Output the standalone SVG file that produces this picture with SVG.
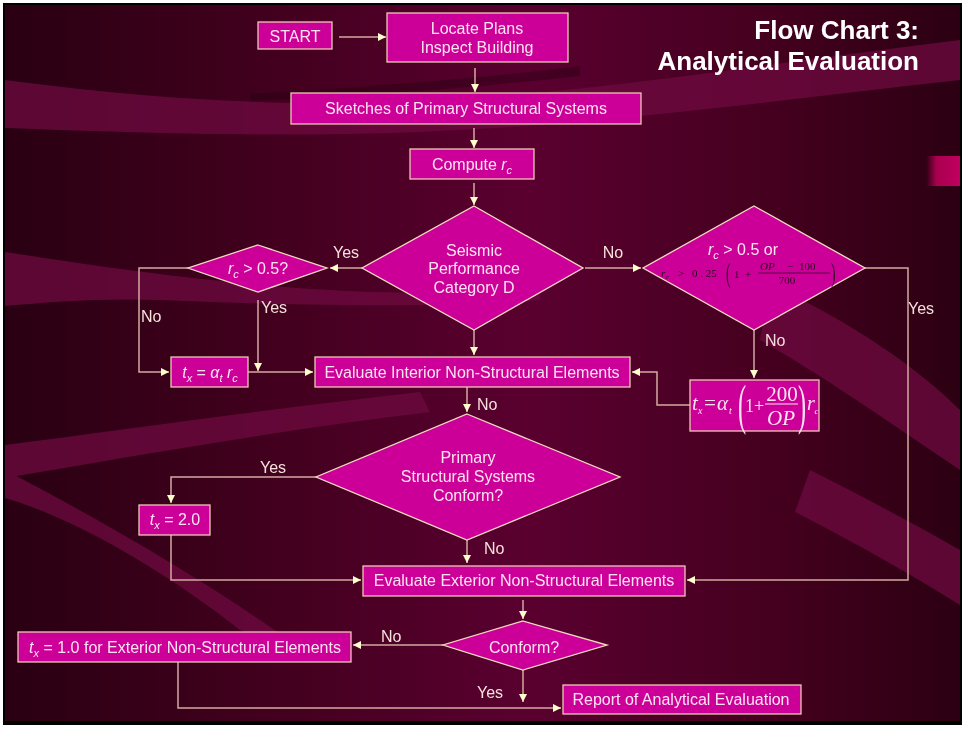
<svg xmlns="http://www.w3.org/2000/svg" width="965" height="730" viewBox="0 0 965 730">
<defs>
<linearGradient id="bg" x1="0" y1="0" x2="1" y2="0">
<stop offset="0" stop-color="#2a0012"/>
<stop offset="0.3" stop-color="#44001f"/>
<stop offset="0.55" stop-color="#5a0030"/>
<stop offset="0.8" stop-color="#45001f"/>
<stop offset="1" stop-color="#2c0012"/>
</linearGradient>
<linearGradient id="tab" x1="0" y1="0" x2="1" y2="0">
<stop offset="0" stop-color="#a0004a" stop-opacity="0"/>
<stop offset="0.3" stop-color="#a8004e"/>
<stop offset="1" stop-color="#c00060"/>
</linearGradient>
<marker id="ah" viewBox="0 0 8 8" refX="8" refY="4" markerWidth="8" markerHeight="8" markerUnits="userSpaceOnUse" orient="auto">
<path d="M0,0 L8,4 L0,8 z" fill="#ffffcc"/>
</marker>
<style>
.box{fill:#cc0099;stroke:#ecc8b4;stroke-width:1.3}
.dia{fill:#cc0099;stroke:#f2dcc0;stroke-width:1.3}
.t{font-family:"Liberation Sans",Arial,sans-serif;font-size:16px;fill:#fbe4f0}
.c{text-anchor:middle}
.lab{font-family:"Liberation Sans",Arial,sans-serif;font-size:16px;fill:#f6e0dc}
.title{font-family:"Liberation Sans",Arial,sans-serif;font-size:26px;font-weight:bold;fill:#ffffff;text-anchor:end}
.conn path{fill:none;stroke:#d2aaa0;stroke-width:1.5}
.arr{marker-end:url(#ah)}
.m{font-family:"Liberation Serif","Times New Roman",serif}
.wave{fill:#6e0a40}
</style>
</defs>
<rect width="965" height="730" fill="#ffffff"/>
<rect x="3" y="3" width="959" height="722" fill="#000000"/>
<rect x="5" y="5" width="955" height="716" fill="url(#bg)"/>
<g id="background-waves" opacity="0.75">
<path class="wave" d="M5,80 C120,95 260,108 420,102 C600,92 780,62 960,40 L960,80 C780,100 600,125 420,132 C260,138 120,132 5,128 Z"/>
<path d="M250,94 C350,88 470,80 580,66 L580,76 C470,88 350,97 250,101 Z" fill="#22000d" opacity="0.5"/>
<path class="wave" d="M5,252 C90,265 200,282 330,290 C420,295 480,292 540,288 L540,300 C460,308 300,306 160,300 C100,298 50,302 5,306 Z"/>
<path class="wave" d="M5,445 C120,430 260,410 420,392 L430,412 C280,430 140,455 5,478 Z"/>
<path class="wave" d="M5,498 C80,520 170,575 240,630 L300,648 C220,590 120,530 5,470 Z"/>
<path class="wave" d="M770,285 C850,320 920,370 960,410 L960,470 C900,430 830,380 760,340 Z"/>
<path class="wave" d="M810,470 C870,500 925,530 960,550 L960,605 C920,580 860,545 795,512 Z"/>
</g>
<rect x="926" y="156" width="34" height="30" fill="url(#tab)"/>

<g id="title">
<text class="title" x="919" y="39">Flow Chart 3:</text>
<text class="title" x="919" y="70">Analytical Evaluation</text>
</g>

<g class="conn" id="connectors">
<path class="arr" d="M339,37 H386"/>
<path class="arr" d="M475,68 V92"/>
<path class="arr" d="M474,128 V148"/>
<path class="arr" d="M474,183 V205"/>
<path class="arr" d="M362,268 H330"/>
<path class="arr" d="M585,268 H641"/>
<path class="arr" d="M188,268 H139 V372 H169"/>
<path class="arr" d="M258,300 V371"/>
<path class="arr" d="M248,372 H313"/>
<path class="arr" d="M474,330 V355"/>
<path class="arr" d="M754,330 V378"/>
<path class="arr" d="M690,405 H657 V372 H632"/>
<path class="arr" d="M865,268 H908 V580 H687"/>
<path class="arr" d="M467,387 V412"/>
<path class="arr" d="M316,477 H171 V503"/>
<path class="arr" d="M171,535 V580 H361"/>
<path class="arr" d="M467,540 V563"/>
<path class="arr" d="M523,600 V619"/>
<path class="arr" d="M443,645 H353"/>
<path class="arr" d="M523,670 V702"/>
<path class="arr" d="M178,662 V708 H561"/>
</g>

<g id="labels">
<text class="lab" x="346" y="258" text-anchor="middle">Yes</text>
<text class="lab" x="613" y="258" text-anchor="middle">No</text>
<text class="lab" x="141" y="322">No</text>
<text class="lab" x="261" y="313">Yes</text>
<text class="lab" x="765" y="346">No</text>
<text class="lab" x="908" y="314">Yes</text>
<text class="lab" x="477" y="410">No</text>
<text class="lab" x="260" y="473">Yes</text>
<text class="lab" x="484" y="554">No</text>
<text class="lab" x="381" y="642">No</text>
<text class="lab" x="477" y="698">Yes</text>
</g>

<g id="start">
<rect class="box" x="258" y="22" width="74" height="27"/>
<text class="t c" x="295" y="42">START</text>
</g>
<g id="locate">
<rect class="box" x="387" y="13" width="181" height="49"/>
<text class="t c" x="477" y="34">Locate Plans</text>
<text class="t c" x="477" y="53">Inspect Building</text>
</g>
<g id="sketches">
<rect class="box" x="291" y="93" width="350" height="31"/>
<text class="t c" x="466" y="114">Sketches of Primary Structural Systems</text>
</g>
<g id="compute">
<rect class="box" x="410" y="149" width="124" height="30"/>
<text class="t c" x="472" y="170">Compute <tspan font-style="italic">r</tspan><tspan font-style="italic" font-size="11" dy="4">c</tspan></text>
</g>
<g id="seismic">
<polygon class="dia" points="474,206 583,268 474,330 362,268"/>
<text class="t c" x="474" y="256">Seismic</text>
<text class="t c" x="474" y="274">Performance</text>
<text class="t c" x="474" y="293">Category D</text>
</g>
<g id="rc-check">
<polygon class="dia" points="258,245 327,268 258,292 188,268"/>
<text class="t c" x="258" y="274"><tspan font-style="italic">r</tspan><tspan font-style="italic" font-size="11" dy="4">c</tspan><tspan dy="-4"> &gt; 0.5?</tspan></text>
</g>
<g id="rc-op-check">
<polygon class="dia" points="754,206 865,268 754,330 643,268"/>
<text class="t c" x="743" y="255"><tspan font-style="italic">r</tspan><tspan font-style="italic" font-size="11" dy="4">c</tspan><tspan dy="-4"> &gt; 0.5 or</tspan></text>
<g class="m" fill="#2a0a1e" font-size="11">
<text x="661" y="277" font-style="italic">r</text>
<text x="666" y="279" font-style="italic" font-size="7">c</text>
<text x="678" y="277">&gt;</text>
<text x="692" y="277">0 . 25</text>
<text x="726" y="282" font-size="27" transform="translate(726,0) scale(0.5,1) translate(-726,0)">(</text>
<text x="734" y="278">1</text>
<text x="745" y="278">+</text>
<text x="760" y="270" font-style="italic">OP</text>
<text x="787" y="270">−</text>
<text x="799" y="270">100</text>
<text x="787" y="284" text-anchor="middle">700</text>
<text x="831" y="282" font-size="27" transform="translate(831,0) scale(0.5,1) translate(-831,0)">)</text>
</g>
<line x1="758" y1="273" x2="830" y2="273" stroke="#2a0a1e" stroke-width="0.7"/>
</g>
<g id="tx-alpha">
<rect class="box" x="171" y="357" width="77" height="30"/>
<text class="t c" x="210" y="378"><tspan font-style="italic">t</tspan><tspan font-style="italic" font-size="11" dy="4">x</tspan><tspan dy="-4"> = </tspan><tspan font-style="italic">α</tspan><tspan font-style="italic" font-size="11" dy="4">t</tspan><tspan dy="-4"> </tspan><tspan font-style="italic">r</tspan><tspan font-style="italic" font-size="11" dy="4">c</tspan></text>
</g>
<g id="eval-interior">
<rect class="box" x="315" y="357" width="315" height="30"/>
<text class="t c" x="472" y="378">Evaluate Interior Non-Structural Elements</text>
</g>
<g id="tx-formula">
<rect class="box" x="690" y="380" width="129" height="51"/>
<g class="m" fill="#fbe4f0" font-size="21">
<text x="692" y="410" font-style="italic">t</text>
<text x="698" y="414" font-style="italic" font-size="10">x</text>
<text x="704" y="410">=</text>
<text x="717" y="410" font-style="italic">α</text>
<text x="729" y="414" font-style="italic" font-size="10">t</text>
<text x="738" y="423" font-size="54" transform="translate(738,0) scale(0.45,1) translate(-738,0)">(</text>
<text x="745" y="412" font-size="18">1</text>
<text x="754" y="412" font-size="18">+</text>
<text x="782" y="401" text-anchor="middle">200</text>
<text x="781" y="425" text-anchor="middle" font-style="italic">OP</text>
<text x="798" y="423" font-size="54" transform="translate(798,0) scale(0.45,1) translate(-798,0)">)</text>
<text x="807" y="410" font-style="italic" font-size="20">r</text>
<text x="814.5" y="414" font-style="italic" font-size="9">c</text>
</g>
<line x1="765" y1="404" x2="798" y2="404" stroke="#fbe4f0" stroke-width="1.2"/>
</g>
<g id="primary">
<polygon class="dia" points="467,414 620,477 467,540 316,477"/>
<text class="t c" x="468" y="463">Primary</text>
<text class="t c" x="468" y="482">Structural Systems</text>
<text class="t c" x="468" y="501">Conform?</text>
</g>
<g id="tx-2">
<rect class="box" x="139" y="505" width="71" height="30"/>
<text class="t c" x="175" y="525"><tspan font-style="italic">t</tspan><tspan font-style="italic" font-size="11" dy="4">x</tspan><tspan dy="-4"> = 2.0</tspan></text>
</g>
<g id="eval-exterior">
<rect class="box" x="363" y="566" width="322" height="30"/>
<text class="t c" x="524" y="586">Evaluate Exterior Non-Structural Elements</text>
</g>
<g id="conform">
<polygon class="dia" points="523,621 607,645 523,670 443,645"/>
<text class="t c" x="524" y="653">Conform?</text>
</g>
<g id="tx-1">
<rect class="box" x="18" y="632" width="333" height="30"/>
<text class="t c" x="185" y="653"><tspan font-style="italic">t</tspan><tspan font-style="italic" font-size="11" dy="4">x</tspan><tspan dy="-4"> = 1.0 for Exterior Non-Structural Elements</tspan></text>
</g>
<g id="report">
<rect class="box" x="563" y="685" width="238" height="29"/>
<text class="t c" x="681" y="705">Report of Analytical Evaluation</text>
</g>
</svg>
